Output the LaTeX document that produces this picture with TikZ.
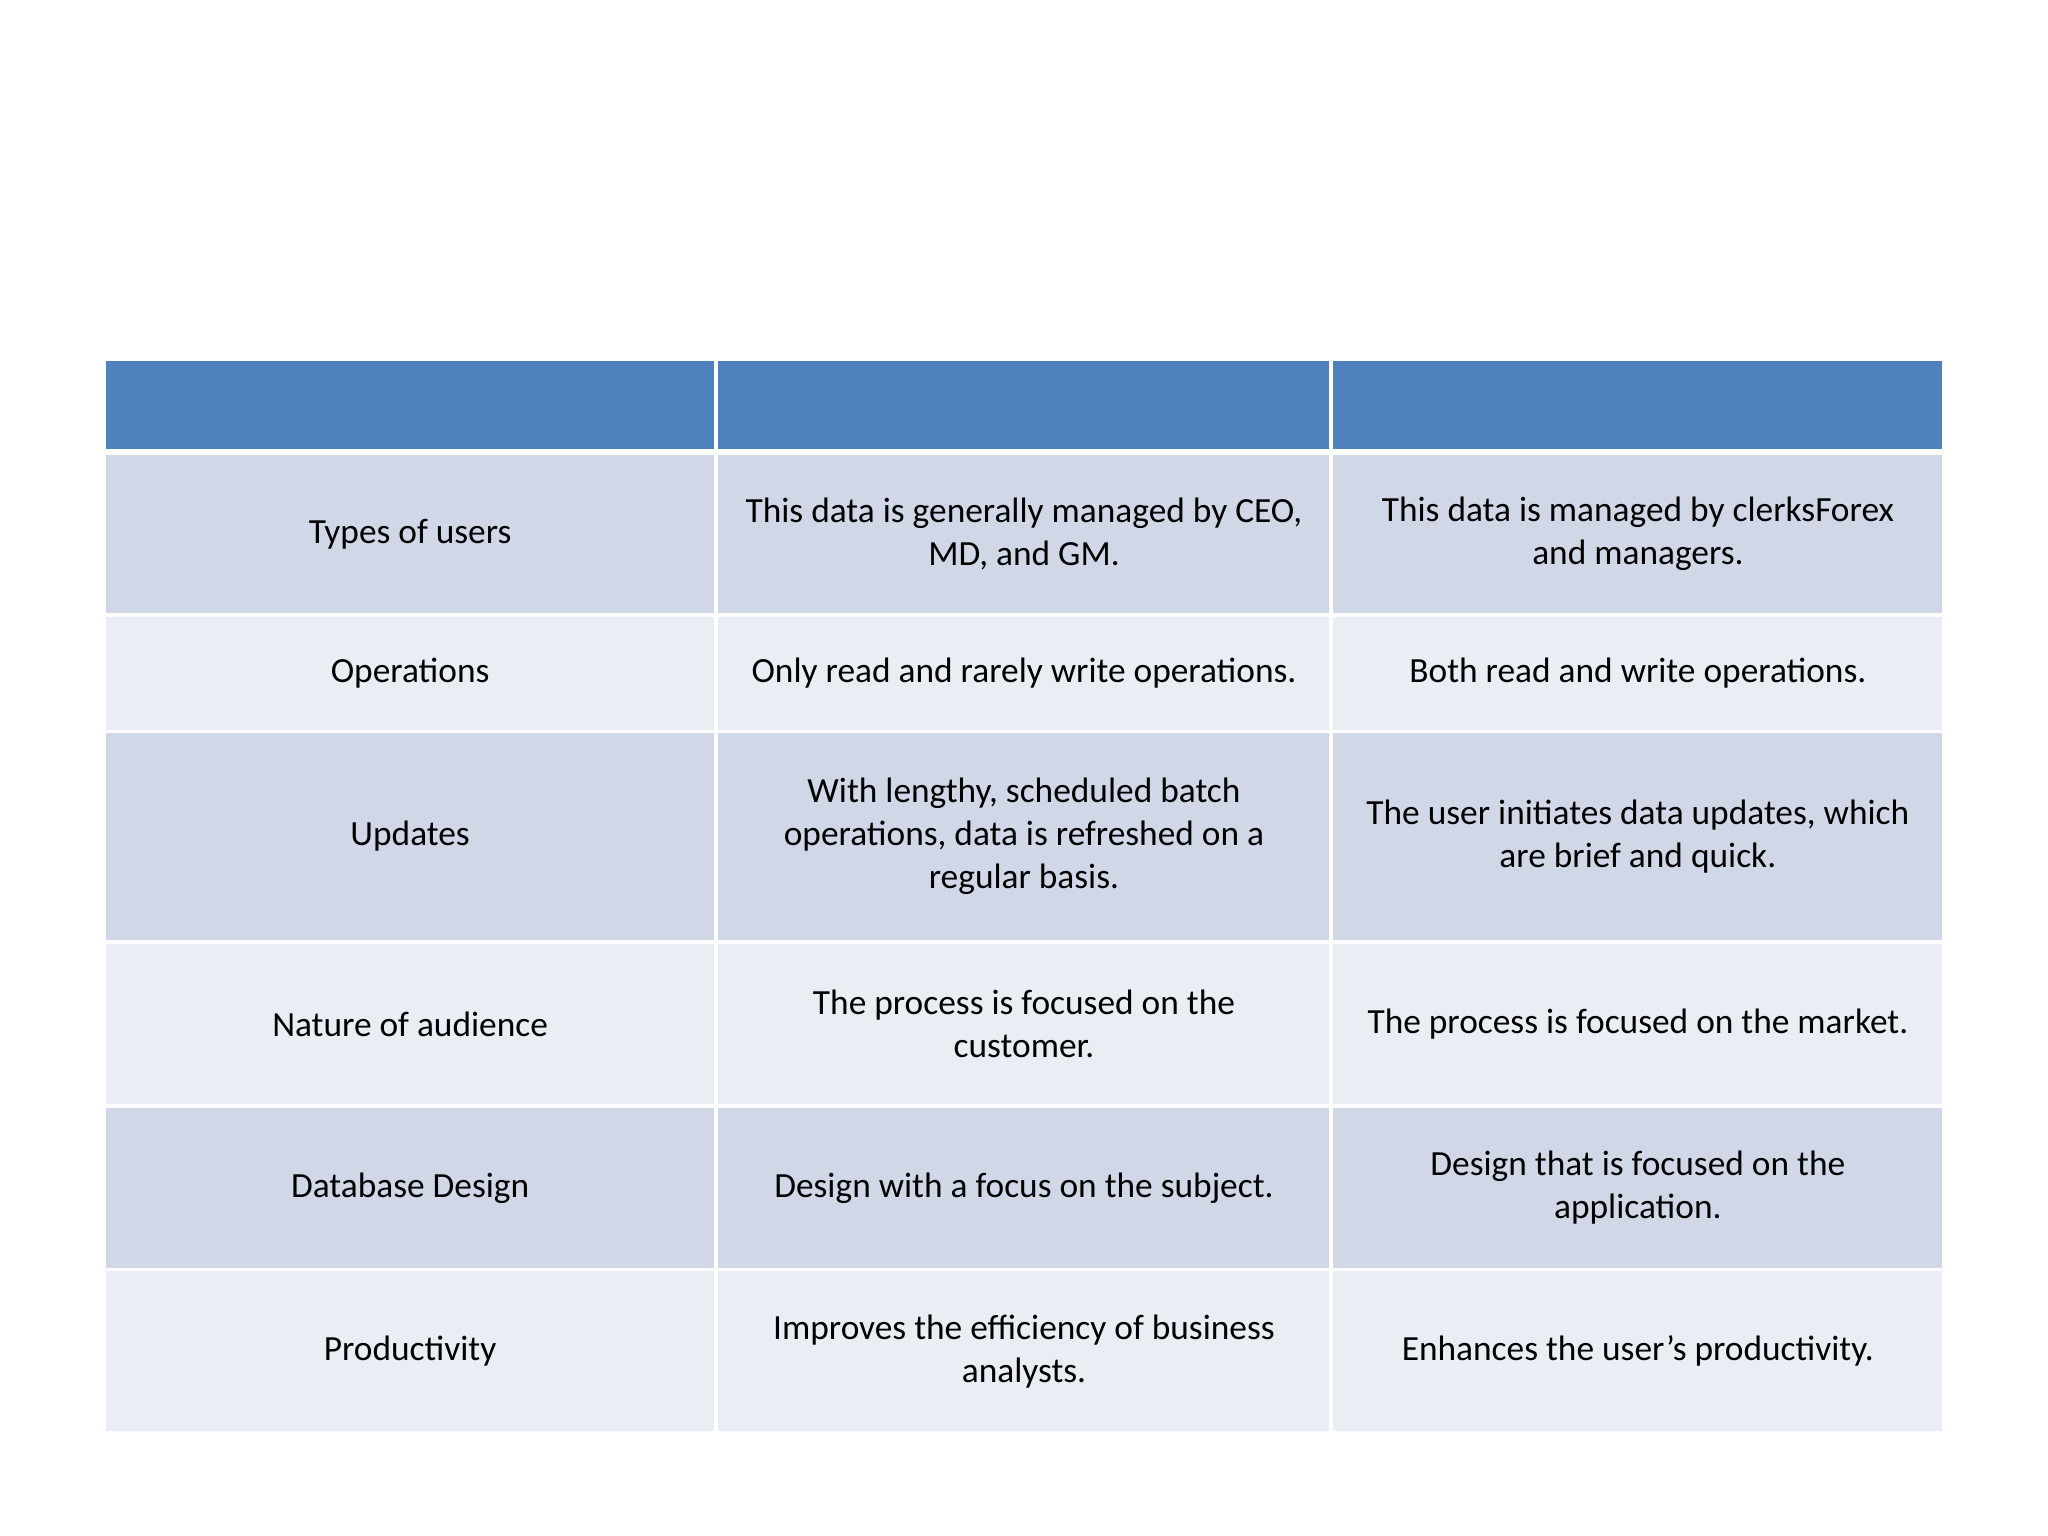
\documentclass[tikz,border=0pt]{standalone}
\usepackage{fontspec}
\setmainfont{Carlito}
\definecolor{hdr}{HTML}{4F81BD}
\definecolor{dk}{HTML}{D0D8E8}
\definecolor{lt}{HTML}{E9EDF4}
\begin{document}
\begin{tikzpicture}[x=0.01cm,y=-0.01cm,
  cell/.style={inner sep=0pt,align=center,font=\fontsize{7.7pt}{9.35pt}\selectfont}]
\useasboundingbox (0,0) rectangle (1568,1176);
\fill[white] (0,0) rectangle (1568,1176);
\newcommand\rowc[6]{%
 \fill[#3,draw=white,line width=0.8pt] (80,#1) rectangle (548,#2);
 \fill[#3,draw=white,line width=0.8pt] (548,#1) rectangle (1019,#2);
 \fill[#3,draw=white,line width=0.8pt] (1019,#1) rectangle (1488,#2);
 \node[cell] at (314,{(#1+#2)/2}) {#4};
 \node[cell] at (784,{(#1+#2)/2}) {#5};
 \node[cell] at (1254,{(#1+#2)/2}) {#6};}
\rowc{275}{345}{hdr}{}{}{}
\rowc{347}{471}{dk}{Types of users}{This data is generally managed by CEO,\\MD, and GM.}{This data is managed by clerksForex\\and managers.}
\rowc{471}{560}{lt}{Operations}{Only read and rarely write operations.}{Both read and write operations.}
\rowc{560}{721}{dk}{Updates}{With lengthy, scheduled batch\\operations, data is refreshed on a\\regular basis.}{The user initiates data updates, which\\are brief and quick.}
\rowc{721}{847}{lt}{Nature of audience}{The process is focused on the\\customer.}{The process is focused on the market.}
\rowc{847}{972}{dk}{Database Design}{Design with a focus on the subject.}{Design that is focused on the\\application.}
\rowc{972}{1097}{lt}{Productivity}{Improves the efficiency of business\\analysts.}{Enhances the user’s productivity.}
\end{tikzpicture}
\end{document}
